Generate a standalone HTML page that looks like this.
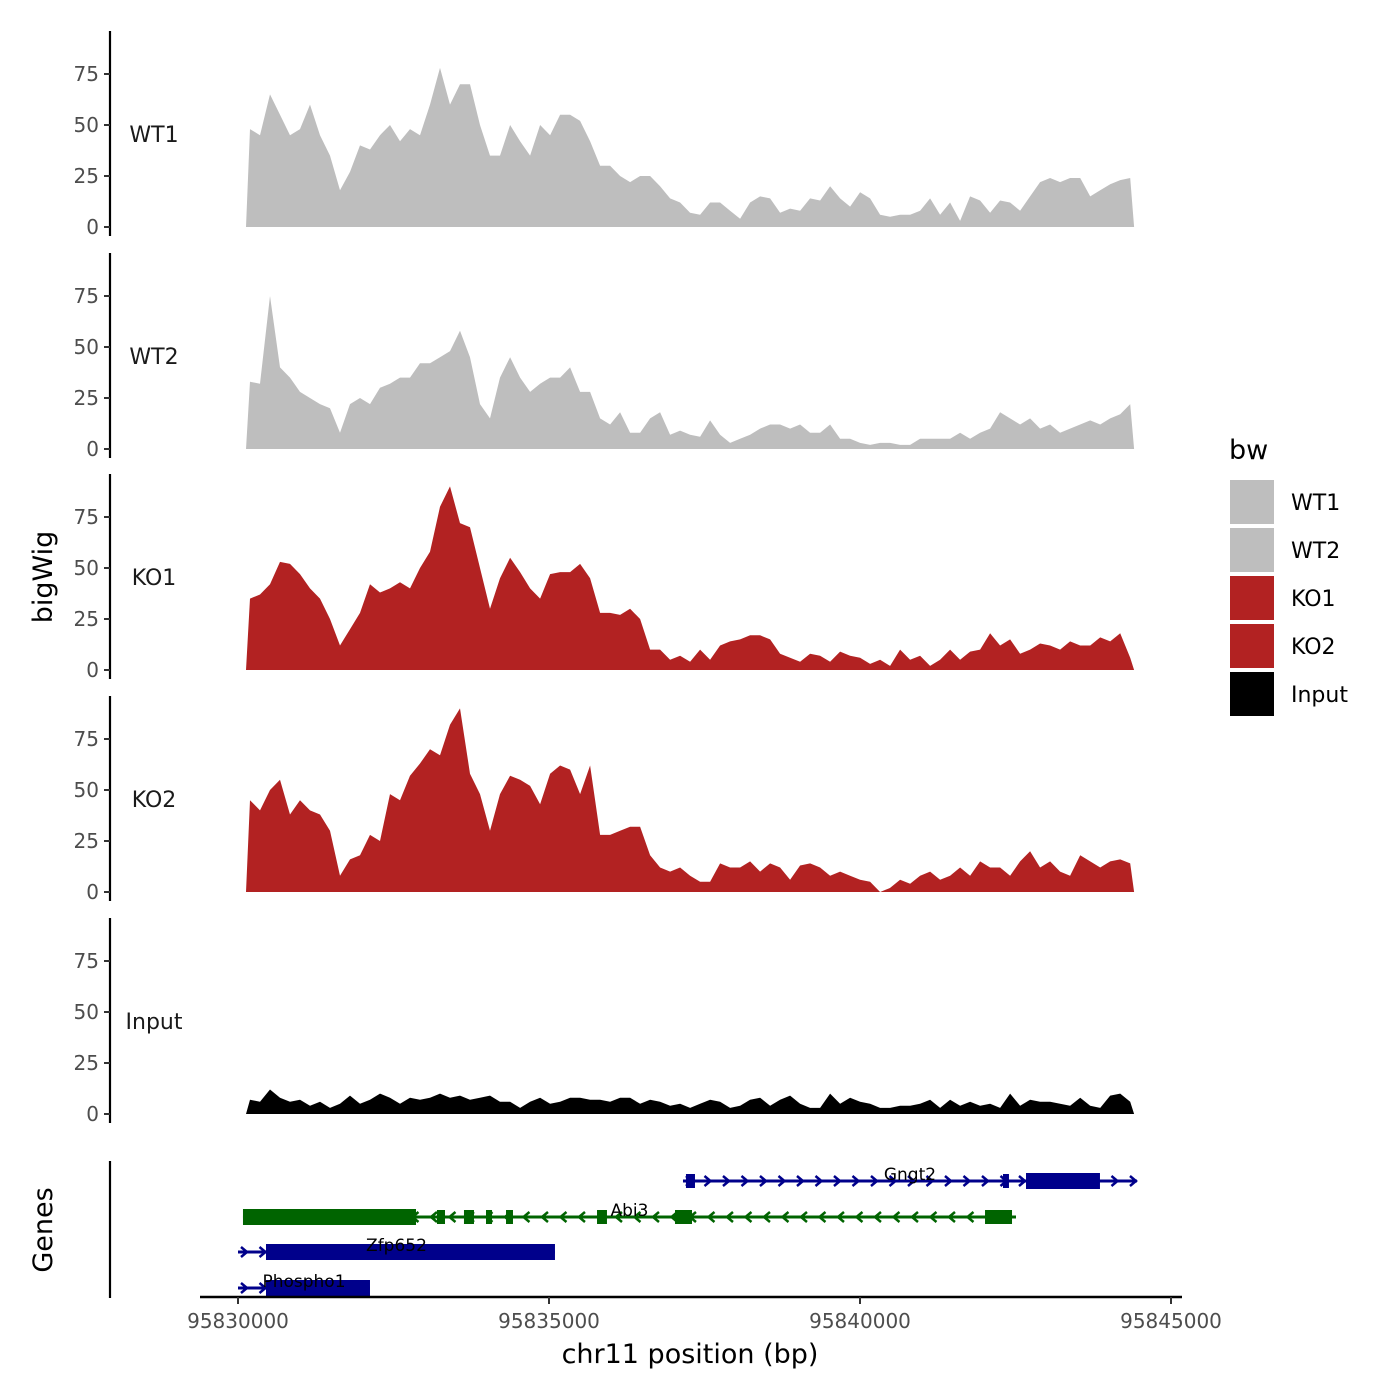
<!DOCTYPE html>
<html><head><meta charset="utf-8"><style>
body{margin:0;background:#fff}
svg{display:block;font-family:"DejaVu Sans","Liberation Sans",sans-serif}
</style></head><body>
<svg id="chart" width="1400" height="1400" viewBox="0 0 1400 1400">
<g id="tracks"></g>
<g id="genes"></g>
<g id="xaxis"></g>
<text x="52" y="577" transform="rotate(-90 52 577)" text-anchor="middle" font-size="27" fill="#000">bigWig</text>
<text x="52" y="1230" transform="rotate(-90 52 1230)" text-anchor="middle" font-size="27" fill="#000">Genes</text>
<text x="690" y="1363" text-anchor="middle" font-size="27" fill="#000">chr11 position (bp)</text>
<g id="legend">
<text x="1229" y="459" font-size="27" fill="#000">bw</text>
</g>
</svg>
<script>
const sampleNames = ["WT1","WT2","KO1","KO2","Input"];
const sampleColors = ["#bebebe","#bebebe","#b22222","#b22222","#000000"];
const yTicks = [0,25,50,75];
const xTicks = [95830000,95835000,95840000,95845000];
const wt1 = [48,45,65,55,45,48,60,45,35,18,27,40,38,45,50,42,48,45,60,78,60,70,70,50,35,35,50,42,35,50,45,55,55,52,42,30,30,25,22,25,25,20,14,12,7,6,12,12,8,4,12,15,14,7,9,8,14,13,20,14,10,17,14,6,5,6,6,8,14,6,12,3,15,13,7,13,12,8,15,22,24,22,24,24,15,18,21,23,24];
const wt2 = [33,32,75,40,35,28,25,22,20,8,22,25,22,30,32,35,35,42,42,45,48,58,45,22,15,35,45,35,28,32,35,35,40,28,28,15,12,18,8,8,15,18,7,9,7,6,14,7,3,5,7,10,12,12,10,12,8,8,12,5,5,3,2,3,3,2,2,5,5,5,5,8,5,8,10,18,15,12,15,10,12,8,10,12,14,12,15,17,22];
const ko1 = [35,37,42,53,52,47,40,35,25,12,20,28,42,38,40,43,40,50,58,80,90,72,70,50,30,45,55,48,40,35,47,48,48,52,45,28,28,27,30,25,10,10,5,7,4,10,5,12,14,15,17,17,15,8,6,4,8,7,4,9,7,6,3,5,2,10,5,7,2,5,10,5,9,10,18,12,15,8,10,13,12,10,14,12,12,16,14,18,6];
const ko2 = [45,40,50,55,38,45,40,38,30,8,16,18,28,25,48,45,57,63,70,67,82,90,58,48,30,48,57,55,52,43,58,62,60,48,62,28,28,30,32,32,18,12,10,12,8,5,5,14,12,12,15,10,14,12,6,13,14,12,8,10,8,6,5,0,2,6,4,8,10,6,8,12,8,15,12,12,8,15,20,12,15,10,8,18,15,12,15,16,14];
const input = [7,6,12,8,6,7,4,6,3,5,9,5,7,10,8,5,8,7,8,10,8,9,7,8,9,6,6,3,6,8,5,6,8,8,7,7,6,8,8,5,7,6,4,5,3,5,7,6,3,4,7,8,4,7,9,5,3,3,10,5,8,6,5,3,3,4,4,5,7,3,7,4,6,4,5,3,10,4,7,6,6,5,4,8,4,3,9,10,6];
const series = [wt1,wt2,ko1,ko2,input];
const geneNames = ["Gngt2","Abi3","Zfp652","Phospho1"];
const geneStarts = [95837154,95830080,95830000,95830000];
const geneEnds = [95844453,95842508,95835096,95832122];
const geneStrands = ["+","-","+","+"];
const geneColors = ["#00008b","#006400","#00008b","#00008b"];
const exonStarts = [[95837202,95842299,95842669],[95830080,95833199,95833633,95833987,95834309,95835772,95837026,95842010],[95830450],[95830450]];
const exonEnds = [[95837347,95842395,95843858],[95832862,95833328,95833794,95834084,95834421,95835932,95837299,95842444],[95835096],[95832122]];

const NS="http://www.w3.org/2000/svg";
function mk(tag,attrs,parent){const e=document.createElementNS(NS,tag);for(const k in attrs)e.setAttribute(k,attrs[k]);parent.appendChild(e);return e;}
const X0=238, XPX=311/5000, BP0=95830000;
function xs(bp){return X0+(bp-BP0)*XPX;}
const DATA_START=95830193, DATA_STEP=160.8;
const PANEL_ZERO=[227,449,670,892,1114], YPX=2.04;
const tracks=document.getElementById('tracks');
series.forEach((vals,s)=>{
  const z=PANEL_ZERO[s];
  const ys=v=>z-v*YPX;
  const g=mk('g',{},tracks);
  
  
  const ax=mk('line',{x1:110,x2:110,y1:z-196,y2:z+9,stroke:'#000','stroke-width':2.2},g);
  
  
  yTicks.forEach(t=>{
    const tl=mk('line',{x1:104,x2:110,y1:ys(t),y2:ys(t),stroke:'#333','stroke-width':2},g);
    
    
    const tx=mk('text',{x:99,y:ys(t)+7,'text-anchor':'end','font-size':20,fill:'#4d4d4d'},g);
    tx.textContent=t;
    
    
  });
  const lab=mk('text',{x:154,y:z-85,'text-anchor':'middle','font-size':22,fill:'#1a1a1a'},g);
  lab.textContent=sampleNames[s];
  
  
  let d='M'+xs(DATA_START-64).toFixed(1)+','+z;
  vals.forEach((v,i)=>{d+=' L'+xs(DATA_START+i*DATA_STEP).toFixed(1)+','+ys(v).toFixed(1);});
  d+=' L'+xs(DATA_START+(vals.length-1)*DATA_STEP+64).toFixed(1)+','+z+' Z';
  const area=mk('path',{d:d,fill:sampleColors[s]},g);
  
  
});
// genes
const genes=document.getElementById('genes');
const gax=mk('line',{x1:110,x2:110,y1:1161,y2:1298,stroke:'#000','stroke-width':2.2},genes);


const GY=[1181,1217,1252,1288], LBL_DX=[0,0,0,0];
geneNames.forEach((n,k)=>{
  const y=GY[k], c=geneColors[k];
  const g=mk('g',{},genes);
  
  
  const x1=xs(geneStarts[k]), x2=xs(geneEnds[k]);
  mk('line',{x1:x1,x2:x2,y1:y,y2:y,stroke:c,'stroke-width':3},g);
  for(let ax=x1+6;ax<=x2-2;ax+=18.5){
    const dir=geneStrands[k]==='+'?1:-1;
    mk('polyline',{points:(ax-3*dir)+','+(y-5)+' '+(ax+3*dir)+','+y+' '+(ax-3*dir)+','+(y+5),fill:'none',stroke:c,'stroke-width':2.5},g);
  }
  exonStarts[k].forEach((es,j)=>{
    const a=xs(es), b=xs(exonEnds[k][j]);
    const h=(b-a>40)?16:14;
    const r=mk('rect',{x:a,y:y-h/2,width:Math.max(b-a,5),height:h,fill:c},g);
    
    
  });
  const mid=(x1+x2)/2;
  const t=mk('text',{x:mid,y:y-1,'text-anchor':'middle','font-size':17,fill:'#000'},g);
  t.textContent=n;
  
  
});
// x axis
const xa=document.getElementById('xaxis');
mk('line',{x1:200,x2:1182,y1:1297,y2:1297,stroke:'#000','stroke-width':2.5},xa);
xTicks.forEach(t=>{
  const tl=mk('line',{x1:xs(t),x2:xs(t),y1:1297,y2:1304,stroke:'#333','stroke-width':2},xa);
  
  
  const tx=mk('text',{x:xs(t),y:1328,'text-anchor':'middle','font-size':20,fill:'#4d4d4d'},xa);
  tx.textContent=t;
  
  
});
// legend
const leg=document.getElementById('legend');
const legendColors=["#bebebe","#bebebe","#b22222","#b22222","#000000"];
sampleNames.forEach((n,i)=>{
  const y=480+i*48;
  const r=mk('rect',{x:1230,y:y,width:44,height:44,fill:legendColors[i]},leg);
  
  
  const t=mk('text',{x:1291,y:y+30,'font-size':22,fill:'#000'},leg);
  t.textContent=n;
  
  
});
</script>
</body></html>
